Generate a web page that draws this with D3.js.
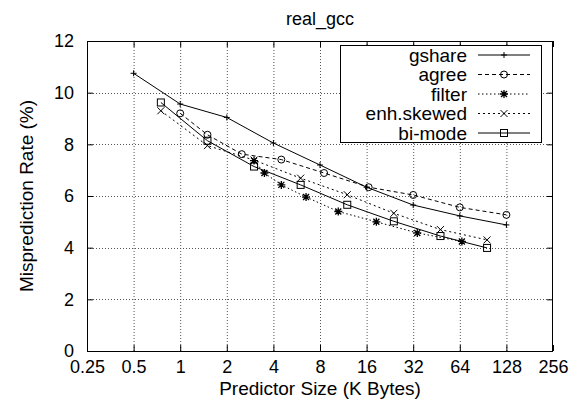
<!DOCTYPE html>
<html><head><meta charset="utf-8">
<script src="https://cdn.jsdelivr.net/npm/d3@7"></script>
<style>body{margin:0;background:#fff}svg{display:block}text{font-family:"Liberation Sans",Arial,Helvetica,sans-serif;fill:#000}</style>
</head><body><svg id="c" width="581" height="403"></svg>
<script>
const title = "real_gcc";
const xLabel = "Predictor Size (K Bytes)";
const yLabel = "Misprediction Rate (%)";
const xTicks = [0.25,0.5,1,2,4,8,16,32,64,128,256];
const xTickLabels = ["0.25","0.5","1","2","4","8","16","32","64","128","256"];
const yTicks = [0,2,4,6,8,10,12];
const seriesNames = ["gshare","agree","filter","enh.skewed","bi-mode"];
const gshareX = [0.5,1,2,4,8,16,32,64,128];
const gshareY = [10.75,9.56,9.04,8.05,7.20,6.34,5.65,5.23,4.88];
const agreeX = [1,1.5,2.5,4.5,8.5,16.5,32,64,128];
const agreeY = [9.2,8.37,7.62,7.41,6.89,6.34,6.04,5.56,5.27];
const filterX = [3,3.5,4.5,6.5,10.5,18.5,34,66];
const filterY = [7.37,6.89,6.43,5.96,5.40,5.0,4.57,4.24];
const enhX = [0.75,1.5,3,6,12,24,48,96];
const enhY = [9.30,7.95,7.39,6.69,6.05,5.33,4.70,4.30];
const bimodeX = [0.75,1.5,3,6,12,24,48,96];
const bimodeY = [9.62,8.14,7.14,6.43,5.66,5.02,4.45,3.99];

const L=87,R=553,T=41,B=351;
const svg=d3.select("#c");
const x=d3.scaleLog().base(2).domain([0.25,256]).range([L,R]);
const y=d3.scaleLinear().domain([0,12]).range([B,T]);

// grid
const g=svg.append("g");
g.selectAll(".gx").data(xTicks.slice(1,-1)).enter().append("line")
 .attr("x1",d=>x(d)+0.5).attr("x2",d=>x(d)+0.5).attr("y1",T).attr("y2",B)
 .attr("stroke","#555").attr("stroke-width",1).attr("stroke-dasharray","1,2");
g.selectAll(".gy").data(yTicks.slice(1,-1)).enter().append("line")
 .attr("y1",d=>Math.round(y(d))+0.5).attr("y2",d=>Math.round(y(d))+0.5).attr("x1",L).attr("x2",R)
 .attr("stroke","#555").attr("stroke-width",1).attr("stroke-dasharray","1,2");

// axes
const xb=svg.append("g").attr("transform",`translate(0,${B})`)
 .call(d3.axisBottom(x).tickValues(xTicks).tickFormat((d,i)=>xTickLabels[i]).tickSizeInner(-6).tickSizeOuter(0).tickPadding(9));
const xt=svg.append("g").attr("transform",`translate(0,${T})`)
 .call(d3.axisTop(x).tickValues(xTicks).tickFormat("").tickSizeInner(-6).tickSizeOuter(0));
const yl=svg.append("g").attr("transform",`translate(${L},0)`)
 .call(d3.axisLeft(y).tickValues(yTicks).tickSizeInner(-6).tickSizeOuter(0).tickPadding(13));
const yr=svg.append("g").attr("transform",`translate(${R},0)`)
 .call(d3.axisRight(y).tickValues(yTicks).tickFormat("").tickSizeInner(-6).tickSizeOuter(0));
[xb,xt,yl,yr].forEach(a=>{a.select(".domain").remove();a.selectAll("line").attr("stroke","#000");
 a.selectAll("text").style("font-size","18px").attr("font-family",null);});
svg.append("rect").attr("x",L+0.5).attr("y",T+0.5).attr("width",R-L-1).attr("height",B-T).attr("fill","none").attr("stroke","#000");

// labels
svg.append("text").attr("x",(L+R)/2).attr("y",25).attr("text-anchor","middle").style("font-size","18px").text(title);
svg.append("text").attr("x",(L+R)/2).attr("y",395).attr("text-anchor","middle").style("font-size","19px").text(xLabel);
svg.append("text").attr("transform",`translate(33,${(T+B)/2}) rotate(-90)`).attr("text-anchor","middle").style("font-size","19px").text(yLabel);

// markers
function marker(sel,type,cx,cy){
 const p=sel.append("g").attr("transform",`translate(${cx},${cy})`);
 if(type==="plus"){p.append("path").attr("d","M-3,0H3M0,-3V3").attr("stroke","#000").attr("stroke-width",1);}
 else if(type==="circle"){p.append("circle").attr("r",3.5).attr("fill","none").attr("stroke","#000");}
 else if(type==="star"){p.append("path").attr("d","M-4,0H4M0,-4V4M-3,-3L3,3M-3,3L3,-3").attr("stroke","#000").attr("stroke-width",1.3);}
 else if(type==="cross"){p.append("path").attr("d","M-3.5,-3.5L3.5,3.5M-3.5,3.5L3.5,-3.5").attr("stroke","#000").attr("stroke-width",1);}
 else if(type==="square"){p.append("rect").attr("x",-3.5).attr("y",-3.5).attr("width",7).attr("height",7).attr("fill","none").attr("stroke","#000");}
}
const series=[
 {xs:gshareX,ys:gshareY,dash:null,m:"plus"},
 {xs:agreeX,ys:agreeY,dash:"4,3",m:"circle"},
 {xs:filterX,ys:filterY,dash:"1.5,2.5",m:"star"},
 {xs:enhX,ys:enhY,dash:"2,3",m:"cross"},
 {xs:bimodeX,ys:bimodeY,dash:null,m:"square"}
];
const line=d3.line().x(d=>x(d[0])).y(d=>y(d[1]));
series.forEach(s=>{
 const pts=s.xs.map((v,i)=>[v,s.ys[i]]);
 svg.append("path").attr("d",line(pts)).attr("fill","none").attr("stroke","#000").attr("stroke-width",1)
  .attr("stroke-dasharray",s.dash);
 const mg=svg.append("g");
 pts.forEach(p=>marker(mg,s.m,x(p[0]),y(p[1])));
});

// legend
const lg=svg.append("g");
lg.append("rect").attr("x",340.5).attr("y",45.5).attr("width",201).attr("height",97).attr("fill","#fff").attr("stroke","#000");
seriesNames.forEach((n,i)=>{
 const yy=55+i*19.5;
 lg.append("text").attr("x",467).attr("y",yy+6.5).attr("text-anchor","end").style("font-size","19px").text(n);
 lg.append("line").attr("x1",478).attr("x2",530).attr("y1",yy).attr("y2",yy).attr("stroke","#000")
  .attr("stroke-dasharray",series[i].dash);
 marker(lg,series[i].m,504,yy);
});
</script></body></html>
